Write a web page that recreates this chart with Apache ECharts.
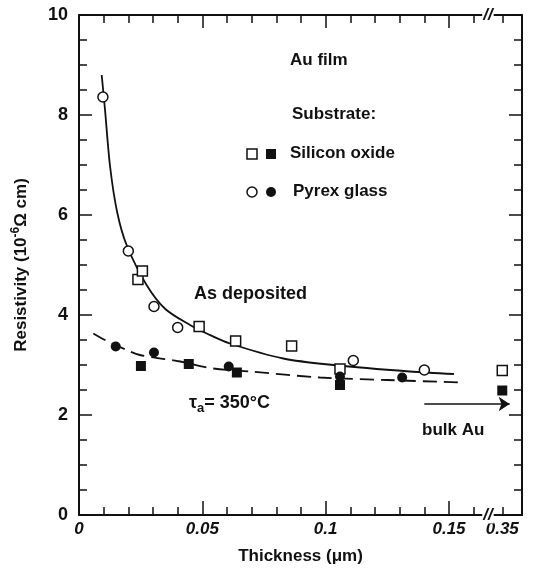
<!DOCTYPE html>
<html>
<head>
<meta charset="utf-8">
<script src="https://cdn.jsdelivr.net/npm/echarts@6/dist/echarts.min.js"></script>
<style>
  html, body { margin: 0; padding: 0; background: #fff; }
  #chart { width: 541px; height: 572px; }
</style>
</head>
<body>
<div id="chart"></div>
<script>
// thickness in um, resistivity in 1e-6 ohm cm
const siO2Deposited = [[0.0239, 4.71], [0.0257, 4.88], [0.0487, 3.77], [0.0635, 3.48], [0.0862, 3.38], [0.1058, 2.92], [0.35, 2.89]];
const pyrexDeposited = [[0.0097, 8.36], [0.020, 5.28], [0.0304, 4.17], [0.040, 3.75], [0.1112, 3.09], [0.140, 2.90]];
const siO2Annealed = [[0.0251, 2.98], [0.0445, 3.02], [0.064, 2.85], [0.1058, 2.60], [0.35, 2.49]];
const pyrexAnnealed = [[0.0149, 3.37], [0.0304, 3.25], [0.0607, 2.97], [0.1058, 2.77], [0.131, 2.75]];

// fitted curves
const depositedCurve = [[0.0092, 8.8], [0.0105, 8.13], [0.0126, 6.97], [0.0155, 6.05], [0.0193, 5.4], [0.0274, 4.6],
  [0.035, 4.12], [0.045, 3.8], [0.0518, 3.63], [0.0612, 3.43], [0.0828, 3.13], [0.1031, 3.0], [0.134, 2.87], [0.152, 2.82]];
const annealedCurve = [[0.0058, 3.63], [0.0105, 3.5], [0.0193, 3.3], [0.0247, 3.2], [0.041, 3.07], [0.0545, 2.93],
  [0.0693, 2.87], [0.0977, 2.75], [0.1248, 2.70], [0.155, 2.65]];

const bulkArrow = [[0.14, 2.22], [0.353, 2.22]];

// tick values
const xLabels = [0, 0.05, 0.1, 0.15, 0.35];
const xMajorTicks = [0, 0.05, 0.1, 0.15];
const xMinorTicks = [0.01, 0.02, 0.03, 0.04, 0.06, 0.07, 0.08, 0.09, 0.11, 0.12, 0.13, 0.14, 0.16, 0.35];
const xBreak = { start: 0.164, end: 0.346 };

const FONT = 'Liberation Sans, Arial, sans-serif';
const INK = '#111';

const myChart = echarts.init(document.getElementById('chart'));

function xAxisCfg(pos, ticks, tickLen, showLine, labels) {
  return {
    type: 'value',
    position: pos,
    min: 0,
    max: 0.358,
    breaks: [{ start: xBreak.start, end: xBreak.end, gap: '2%' }],
    breakArea: { show: false },
    axisLine: { show: showLine, onZero: false, lineStyle: { color: INK, width: 2 } },
    axisTick: { show: true, inside: true, length: tickLen, customValues: ticks, lineStyle: { color: INK, width: 1.5 } },
    axisLabel: labels ? {
      show: true,
      customValues: labels,
      margin: 6,
      color: INK,
      fontFamily: FONT,
      fontSize: 17,
      fontWeight: 'bold',
      fontStyle: 'italic',
      formatter: function (v) { return String(+v.toFixed(2)); }
    } : { show: false },
    splitLine: { show: false }
  };
}

function yAxisCfg(pos, showLabel) {
  return {
    type: 'value',
    position: pos,
    min: 0,
    max: 10,
    interval: 2,
    axisLine: { show: true, onZero: false, lineStyle: { color: INK, width: 2 } },
    axisTick: { show: true, inside: true, length: 13, lineStyle: { color: INK, width: 1.5 } },
    minorTick: { show: true, splitNumber: 4, length: 8, lineStyle: { color: INK, width: 1.5 } },
    axisLabel: { show: showLabel, margin: 11, color: INK, fontFamily: FONT, fontSize: 18, fontWeight: 'bold' },
    splitLine: { show: false },
    minorSplitLine: { show: false }
  };
}

const bottomX = xAxisCfg('bottom', xMajorTicks, 14, true, xLabels);
bottomX.name = 'Thickness (μm)';
bottomX.nameLocation = 'middle';
bottomX.nameGap = 33;
bottomX.nameTextStyle = { color: INK, fontFamily: FONT, fontSize: 17, fontWeight: 'bold' };

const leftY = yAxisCfg('left', true);
leftY.name = 'Resistivity (10{sup|-6}Ω cm)';
leftY.nameLocation = 'middle';
leftY.nameGap = 47;
leftY.nameTextStyle = {
  color: INK, fontFamily: FONT, fontSize: 17, fontWeight: 'bold',
  rich: { sup: { fontSize: 12, fontWeight: 'bold', fontFamily: FONT, color: INK, verticalAlign: 'top', padding: [0, 0, 10, 0] } }
};

const textStyle = { fill: INK, font: 'bold 17px ' + FONT };

const option = {
  animation: false,
  backgroundColor: '#fff',
  grid: { left: 79, right: 19, top: 15, bottom: 57 },
  xAxis: [
    bottomX,
    xAxisCfg('bottom', xMinorTicks, 8, false, null),
    xAxisCfg('top', xMajorTicks, 13, true, null),
    xAxisCfg('top', xMinorTicks, 8, false, null)
  ],
  yAxis: [leftY, yAxisCfg('right', false)],
  series: [
    {
      name: 'As deposited fit', type: 'line', data: depositedCurve, smooth: 0.3, showSymbol: false, silent: true,
      lineStyle: { color: INK, width: 1.8 }
    },
    {
      name: 'Annealed fit', type: 'line', data: annealedCurve, smooth: 0.3, showSymbol: false, silent: true,
      lineStyle: { color: INK, width: 1.8, type: [14, 7] }
    },
    {
      name: 'Silicon oxide, as deposited', type: 'scatter', data: siO2Deposited, symbol: 'rect', symbolSize: 10,
      itemStyle: { color: '#fff', borderColor: INK, borderWidth: 1.5, opacity: 1 }, z: 5
    },
    {
      name: 'Pyrex glass, as deposited', type: 'scatter', data: pyrexDeposited, symbol: 'circle', symbolSize: 10,
      itemStyle: { color: '#fff', borderColor: INK, borderWidth: 1.5, opacity: 1 }, z: 5
    },
    {
      name: 'Silicon oxide, annealed', type: 'scatter', data: siO2Annealed, symbol: 'rect', symbolSize: 10,
      itemStyle: { color: INK, opacity: 1 }, z: 5
    },
    {
      name: 'Pyrex glass, annealed', type: 'scatter', data: pyrexAnnealed, symbol: 'circle', symbolSize: 10,
      itemStyle: { color: INK, opacity: 1 }, z: 5
    },
    {
      name: 'bulk Au', type: 'line', data: [], silent: true,
      markLine: {
        silent: true, symbol: ['none', 'arrow'], symbolSize: 11, label: { show: false },
        lineStyle: { color: INK, width: 1.5, type: 'solid' },
        data: [[{ coord: bulkArrow[0] }, { coord: bulkArrow[1] }]]
      }
    }
  ],
  graphic: [
    { id: 'aufilm', type: 'text', left: 290, top: 52, style: Object.assign({ text: 'Au film' }, textStyle) },
    { id: 'substrate', type: 'text', left: 292, top: 106, style: Object.assign({ text: 'Substrate:' }, textStyle) },
    { id: 'sq1', type: 'rect', shape: { x: 247, y: 149, width: 10, height: 10 }, style: { fill: '#fff', stroke: INK, lineWidth: 1.5 } },
    { id: 'sq2', type: 'rect', shape: { x: 266, y: 149, width: 10, height: 10 }, style: { fill: INK } },
    { id: 'sio', type: 'text', left: 290, top: 145, style: Object.assign({ text: 'Silicon oxide' }, textStyle) },
    { id: 'c1', type: 'circle', shape: { cx: 252, cy: 192, r: 5 }, style: { fill: '#fff', stroke: INK, lineWidth: 1.5 } },
    { id: 'c2', type: 'circle', shape: { cx: 271, cy: 192, r: 5 }, style: { fill: INK } },
    { id: 'pyrex', type: 'text', left: 293, top: 183, style: Object.assign({ text: 'Pyrex glass' }, textStyle) },
    { id: 'asdep', type: 'text', left: 194, top: 285, style: { text: 'As deposited', fill: INK, font: 'bold 18px ' + FONT } },
    {
      id: 'tau', type: 'text', left: 189, top: 394,
      style: {
        text: '{t|τ}{s|a}{t|= 350°C}',
        rich: {
          t: { fill: INK, font: 'bold 18px ' + FONT },
          s: { fill: INK, font: 'bold 13px ' + FONT, padding: [10, 0, 0, 0] }
        }
      }
    },
    { id: 'bulk', type: 'text', left: 422, top: 422, style: { text: 'bulk Au', fill: INK, font: 'bold 17px ' + FONT } }
  ]
};

myChart.setOption(option);

// break marks "//" on top and bottom frame
const p0 = myChart.convertToPixel({ xAxisIndex: 0 }, xBreak.start);
const p1 = myChart.convertToPixel({ xAxisIndex: 0 }, xBreak.end);
const bx = (p0 + p1) / 2;
const rect = myChart.getModel().getComponent('grid').coordinateSystem.getRect();
const breakMark = { text: '//', fill: INK, font: 'italic bold 17px ' + FONT, align: 'center', verticalAlign: 'middle',
  backgroundColor: '#fff', padding: [0, 1] };
myChart.setOption({
  graphic: [
    { id: 'brkBottom', type: 'text', x: bx, y: rect.y + rect.height, z: 100, style: breakMark },
    { id: 'brkTop', type: 'text', x: bx, y: rect.y, z: 100, style: breakMark }
  ]
});
</script>
</body>
</html>
